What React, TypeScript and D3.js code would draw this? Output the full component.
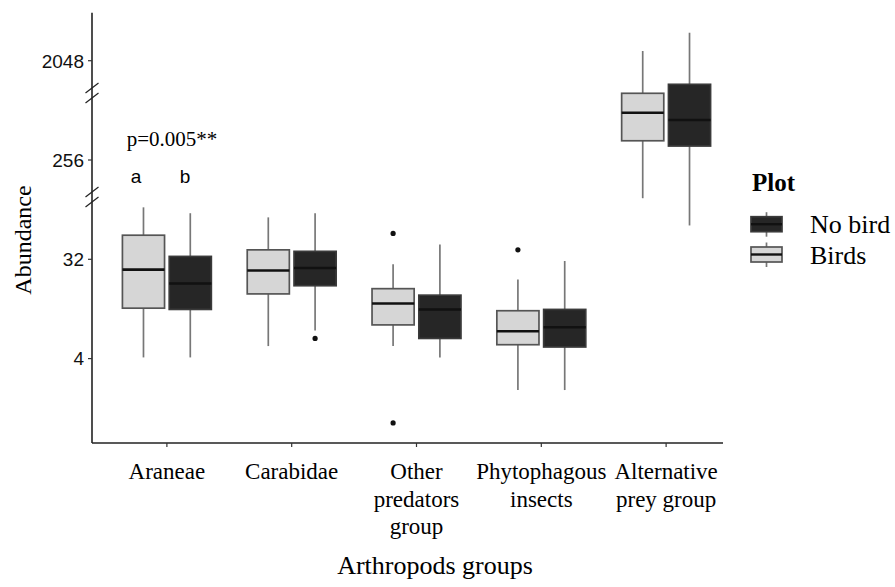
import { useEffect, useRef } from 'react';
import * as d3 from 'd3';

// Categories and the lines they are printed on
const categories = ['Araneae', 'Carabidae', 'Other predators group', 'Phytophagous insects', 'Alternative prey group'];
const categoryLines = [['Araneae'], ['Carabidae'], ['Other', 'predators', 'group'], ['Phytophagous', 'insects'], ['Alternative', 'prey group']];

const groups = ['Birds', 'No bird'];
const legendOrder = ['No bird', 'Birds'];

// [min, q1, median, q3, max] per category
const birdsStats = [
  [4.1, 11.5, 25.8, 53, 95],
  [5.2, 15.5, 25.3, 39, 77],
  [5.2, 8.1, 12.7, 17.3, 28.8],
  [2.07, 5.35, 7.1, 10.9, 21],
  [115, 383, 689, 1035, 2509],
];
const noBirdStats = [
  [4.1, 11.2, 19.3, 34, 84],
  [7.2, 18.4, 26.7, 37.8, 84],
  [4.1, 6.1, 11.2, 15.1, 43.7],
  [2.07, 5.1, 7.7, 11.2, 30.9],
  [65, 343, 591, 1249, 3680],
];
const birdsOutliers = [[], [], [55, 1.04], [39], []];
const noBirdOutliers = [[], [6.1], [], [], []];

const yTicks = [4, 32, 256, 2048];
const axisBreaks = [1040, 118];

const fills: Record<string, string> = { 'Birds': '#d6d6d6', 'No bird': '#262626' };
const strokes: Record<string, string> = { 'Birds': '#555', 'No bird': '#3a3a3a' };

const SERIF = '"Liberation Serif", "Times New Roman", serif';
const SANS = '"Liberation Sans", Arial, sans-serif';

export default function App() {
  const svgRef = useRef<SVGSVGElement>(null);

  useEffect(() => {
    if (!svgRef.current) return;
    const svg = d3.select(svgRef.current);
    svg.selectAll('*').remove();

    const width = 895;
    const height = 587;
    const left = 92;
    const right = 741;
    const top = 12.7;
    const bottom = 443;

    svg.append('rect').attr('width', width).attr('height', height).attr('fill', '#fff');

    const y = d3.scaleLog().base(2).domain([0.683, 5597]).range([bottom, top]);
    const x = d3.scaleBand<string>().domain(categories).range([left, right]).paddingInner(0).paddingOuter(0.1);
    const step = x.bandwidth();
    const dodge = step * 0.75;

    const statsBy: Record<string, number[][]> = { 'Birds': birdsStats, 'No bird': noBirdStats };
    const outliersBy: Record<string, number[][]> = { 'Birds': birdsOutliers, 'No bird': noBirdOutliers };

    const g = svg.append('g');

    categories.forEach((cat, ci) => {
      const cx = (x(cat) ?? 0) + step / 2;
      const x1 = d3.scaleBand<string>().domain(groups).range([cx - dodge / 2, cx + dodge / 2])
        .paddingInner(0.1).paddingOuter(0.05);
      groups.forEach(grp => {
        const [mn, q1, med, q3, mx] = statsBy[grp][ci];
        const bx = x1(grp) ?? 0;
        const bw = x1.bandwidth();
        const mid = bx + bw / 2;

        // whiskers
        g.append('line')
          .attr('x1', mid).attr('x2', mid)
          .attr('y1', y(mx)).attr('y2', y(q3))
          .attr('stroke', '#777').attr('stroke-width', 1.7);
        g.append('line')
          .attr('x1', mid).attr('x2', mid)
          .attr('y1', y(q1)).attr('y2', y(mn))
          .attr('stroke', '#777').attr('stroke-width', 1.7);

        g.append('rect')
          .attr('x', bx).attr('y', y(q3))
          .attr('width', bw).attr('height', y(q1) - y(q3))
          .attr('fill', fills[grp])
          .attr('stroke', strokes[grp]).attr('stroke-width', 1.7);

        g.append('line')
          .attr('x1', bx).attr('x2', bx + bw)
          .attr('y1', y(med)).attr('y2', y(med))
          .attr('stroke', '#111').attr('stroke-width', 2.6);

        outliersBy[grp][ci].forEach(v => {
          g.append('circle')
            .attr('cx', mid).attr('cy', y(v)).attr('r', 2.6)
            .attr('fill', '#111');
        });
      });
    });

    // axes
    svg.append('line')
      .attr('x1', left).attr('x2', left).attr('y1', top).attr('y2', bottom)
      .attr('stroke', '#222').attr('stroke-width', 1.6);
    svg.append('line')
      .attr('x1', left).attr('x2', 723).attr('y1', bottom).attr('y2', bottom)
      .attr('stroke', '#222').attr('stroke-width', 1.6);

    yTicks.forEach(t => {
      svg.append('line')
        .attr('x1', left - 4).attr('x2', left).attr('y1', y(t)).attr('y2', y(t))
        .attr('stroke', '#333').attr('stroke-width', 1.2);
      svg.append('text')
        .attr('x', left - 8).attr('y', y(t)).attr('dy', '0.36em')
        .attr('text-anchor', 'end')
        .attr('font-family', SANS).attr('font-size', 19).attr('fill', '#111')
        .text(t);
    });

    // axis break marks
    axisBreaks.forEach(b => {
      const c = y(b);
      [-5, 5].forEach(off => {
        svg.append('line')
          .attr('x1', left - 6.5).attr('x2', left + 6.5)
          .attr('y1', c + off + 5).attr('y2', c + off - 5)
          .attr('stroke', '#222').attr('stroke-width', 1.2);
      });
    });

    categories.forEach((cat, ci) => {
      const cx = (x(cat) ?? 0) + step / 2;
      svg.append('line')
        .attr('x1', cx).attr('x2', cx).attr('y1', bottom).attr('y2', bottom + 4)
        .attr('stroke', '#333').attr('stroke-width', 1.2);
      const t = svg.append('text')
        .attr('x', cx).attr('y', 479)
        .attr('text-anchor', 'middle')
        .attr('font-family', SERIF).attr('font-size', 23).attr('fill', '#000');
      categoryLines[ci].forEach((ln, li) => {
        t.append('tspan').attr('x', cx).attr('dy', li === 0 ? 0 : 27.5).text(ln);
      });
    });

    // titles
    svg.append('text')
      .attr('x', 435).attr('y', 574)
      .attr('text-anchor', 'middle')
      .attr('font-family', SERIF).attr('font-size', 26).attr('fill', '#000')
      .text('Arthropods groups');
    svg.append('text')
      .attr('transform', 'translate(31,240) rotate(-90)')
      .attr('text-anchor', 'middle')
      .attr('font-family', SERIF).attr('font-size', 24).attr('fill', '#000')
      .text('Abundance');

    // annotation
    svg.append('text')
      .attr('x', 172).attr('y', 146)
      .attr('text-anchor', 'middle')
      .attr('font-family', SERIF).attr('font-size', 21).attr('fill', '#000')
      .text('p=0.005**');
    svg.append('text')
      .attr('x', 136).attr('y', 183)
      .attr('text-anchor', 'middle')
      .attr('font-family', SANS).attr('font-size', 19).attr('fill', '#000')
      .text('a');
    svg.append('text')
      .attr('x', 185).attr('y', 183)
      .attr('text-anchor', 'middle')
      .attr('font-family', SANS).attr('font-size', 19).attr('fill', '#000')
      .text('b');

    // legend
    svg.append('text')
      .attr('x', 752).attr('y', 190.5)
      .attr('font-family', SERIF).attr('font-size', 25).attr('font-weight', 'bold').attr('fill', '#000')
      .text('Plot');
    legendOrder.forEach((grp, i) => {
      const cy = 224.2 + i * 30.3;
      const kx = 751;
      const kw = 31;
      const km = kx + kw / 2;
      svg.append('line')
        .attr('x1', km).attr('x2', km).attr('y1', cy - 12).attr('y2', cy + 12.5)
        .attr('stroke', '#777').attr('stroke-width', 1.7);
      svg.append('rect')
        .attr('x', kx).attr('y', cy - 7.5).attr('width', kw).attr('height', 15)
        .attr('fill', fills[grp]).attr('stroke', strokes[grp]).attr('stroke-width', 1.7);
      svg.append('line')
        .attr('x1', kx).attr('x2', kx + kw).attr('y1', cy).attr('y2', cy)
        .attr('stroke', '#111').attr('stroke-width', 2.4);
      svg.append('text')
        .attr('x', 810).attr('y', cy + 9)
        .attr('font-family', SERIF).attr('font-size', 26).attr('fill', '#000')
        .text(grp);
    });
  }, []);

  return (
    <svg
      ref={svgRef}
      width={895}
      height={587}
      style={{ position: 'absolute', left: 0, top: 0, display: 'block' }}
    />
  );
}
